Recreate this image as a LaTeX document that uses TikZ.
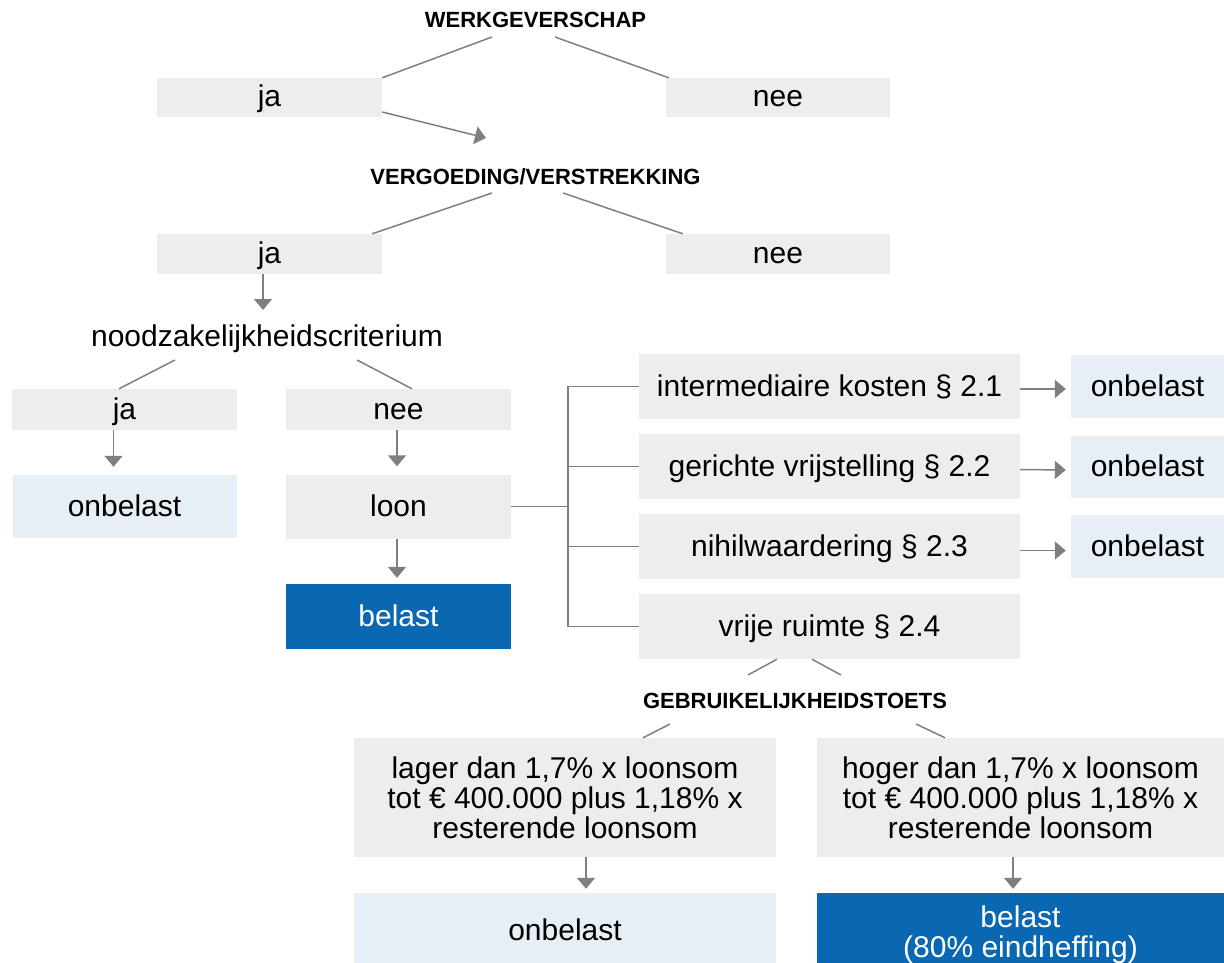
\documentclass[tikz,border=0pt]{standalone}
\usepackage{fontspec}
\setmainfont{Liberation Sans}
\usepackage{tikz}
\usetikzlibrary{arrows.meta,calc}
\definecolor{vakgrijs}{HTML}{EDEDED}
\definecolor{lichtblauw}{HTML}{E6EEF6}
\definecolor{donkerblauw}{HTML}{0A67B1}
\definecolor{lijngrijs}{HTML}{7F7F7F}
\newcommand\tekst{\fontsize{30}{30}\selectfont}
\newcommand\koptekst{\fontsize{22}{26}\selectfont\bfseries}
\tikzset{
	vak/.style={fill=vakgrijs,inner sep=0pt,font=\tekst,align=center},
	regel/.style={text height=22pt,text depth=3pt},
	vrij/.style={vak,fill=lichtblauw},
	last/.style={vak,fill=donkerblauw,text=white},
	kop/.style={font=\koptekst,inner sep=0pt,anchor=base},
	lijn/.style={draw=lijngrijs,line width=1.5pt},
	pijl/.style={lijn,-{Triangle[length=11pt,width=18pt]}}
}
\begin{document}
\begin{tikzpicture}[x=1pt,y=-1pt]
		\clip (0,0) rectangle (1224,963);
			% 第一层
			\node[kop] (werk) at (535.5,28) {WERKGEVERSCHAP};
			\node[vak,regel,minimum width=225pt,minimum height=39pt] (ja1) at (269.5,97.5) {ja};
			\node[vak,regel,minimum width=224pt,minimum height=39pt] (nee1) at (778,97.5) {nee};
			\draw[lijn] (ja1.north east) -- ($(werk.base)+(-43.5,9)$);
			\draw[lijn] ($(nee1.north west)+(3,0)$) -- ($(werk.base)+(19.5,9)$);
			% 第二层
			\node[kop] (verg) at (535.5,185) {VERGOEDING/VERSTREKKING};
			\draw[pijl] ($(ja1.east)+(0,14.5)$) -- ($(verg.base)+(-49.5,-47)$);
			\node[vak,regel,minimum width=225pt,minimum height=40pt] (ja2) at (269.5,254) {ja};
			\node[vak,regel,minimum width=224pt,minimum height=40pt] (nee2) at (778,254) {nee};
			\draw[lijn] ($(ja2.north east)+(-10,0)$) -- ($(verg.base)+(-43.5,8)$);
			\draw[lijn] ($(nee2.north west)+(17,0)$) -- ($(verg.base)+(27.5,8)$);
			% noodzakelijkheid
			\node[anchor=base,font=\tekst,inner sep=0pt] (nood) at (267,346) {noodzakelijkheidscriterium};
			\draw[pijl] ($(ja2.south)+(-6.5,0)$) -- ($(nood.base)+(-4,-36)$);
			\node[vak,regel,minimum width=225pt,minimum height=41pt] (ja3) at (124.5,409.5) {ja};
			\node[vak,regel,minimum width=225pt,minimum height=41pt] (nee3) at (398.5,409.5) {nee};
			\draw[lijn] ($(nood.base)+(-92,14)$) -- ($(ja3.north)+(-5.5,0)$);
			\draw[lijn] ($(nood.base)+(90,14)$) -- ($(nee3.north)+(13.5,0)$);
			\node[vrij,regel,minimum width=224pt,minimum height=63pt] (ob1) at (124.5,506.5) {onbelast};
			\node[vak,regel,minimum width=225pt,minimum height=64pt] (loon) at (398.5,506.5) {loon};
			\node[last,regel,minimum width=225pt,minimum height=65pt] (bel1) at (398.5,616.5) {belast};
			\draw[pijl] ($(ja3.south)+(-11,0)$) -- ($(ob1.north)+(-11,-8)$);
			\draw[pijl] ($(nee3.south)+(-1.5,0)$) -- ($(loon.north)+(-1.5,-8)$);
			\draw[pijl] ($(loon.south)+(-1.5,0)$) -- ($(bel1.north)+(-1.5,-6)$);
			% paragrafen 2.1 t/m 2.4
			\node[vak,regel,minimum width=381pt,minimum height=65pt] (iv) at (829.5,386.5) {intermediaire kosten § 2.1};
			\node[vak,regel,minimum width=381pt,minimum height=65pt] (gv) at (829.5,466.5) {gerichte vrijstelling § 2.2};
			\node[vak,regel,minimum width=381pt,minimum height=65pt] (nw) at (829.5,546.5) {nihilwaardering § 2.3};
			\node[vak,regel,minimum width=381pt,minimum height=65pt] (vr) at (829.5,626.5) {vrije ruimte § 2.4};
			\coordinate (knik) at (568,506.5);
			\draw[lijn] (loon.east) -- (knik);
			\draw[lijn] (iv.west) -| (knik) |- (vr.west);
			\draw[lijn] (knik |- gv.west) -- (gv.west);
			\draw[lijn] (knik |- nw.west) -- (nw.west);
			\node[vrij,regel,minimum width=153pt,minimum height=63pt] (ob2) at (1147.5,386.5) {onbelast};
			\node[vrij,regel,minimum width=153pt,minimum height=62pt] (ob3) at (1147.5,467) {onbelast};
			\node[vrij,regel,minimum width=153pt,minimum height=63pt] (ob4) at (1147.5,546.5) {onbelast};
			\draw[pijl] ($(iv.east)+(0,2.5)$) -- ($(ob2.west)+(-5,2.5)$);
			\draw[pijl] ($(gv.east)+(0,3)$) -- ($(ob3.west)+(-5,3)$);
			\draw[pijl] ($(nw.east)+(0,4)$) -- ($(ob4.west)+(-5,4)$);
			% gebruikelijkheid
			\node[kop] (gebr) at (795,708) {GEBRUIKELIJKHEIDSTOETS};
			\draw[lijn] ($(vr.south)+(-52.5,0)$) -- ($(gebr.base)+(-47,-33)$);
			\draw[lijn] ($(vr.south)+(-17.5,0)$) -- ($(gebr.base)+(46,-33)$);
			\node[vak,minimum width=422pt,minimum height=119pt] (lager) at (565,797.5)
				{lager dan 1,7\% x loonsom\\tot € 400.000 plus 1,18\% x\\resterende loonsom};
			\node[vak,minimum width=407pt,minimum height=119pt] (hoger) at (1020.5,797.5)
				{hoger dan 1,7\% x loonsom\\tot € 400.000 plus 1,18\% x\\resterende loonsom};
			\draw[lijn] ($(gebr.base)+(-125,16)$) -- ($(lager.north)+(78,0)$);
			\draw[lijn] ($(gebr.base)+(121,16)$) -- ($(hoger.north)+(-75.5,0)$);
			\node[vrij,regel,minimum width=422pt,minimum height=75pt] (ob5) at (565,930.5) {onbelast};
			\node[last,minimum width=407pt,minimum height=83pt] (bel2) at (1020.5,934.5) {belast\\(80\% eindheffing)};
			\draw[pijl] ($(lager.south)+(21,0)$) -- ($(ob5.north)+(21,-4)$);
			\draw[pijl] ($(hoger.south)+(-7.5,0)$) -- ($(bel2.north)+(-7.5,-4)$);
		\end{tikzpicture}
\end{document}
